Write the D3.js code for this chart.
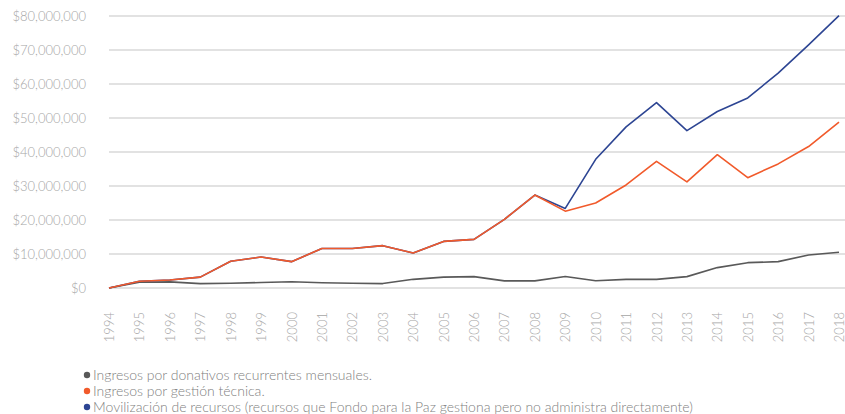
<!DOCTYPE html>
<html>
<head>
<meta charset="utf-8">
<script src="https://cdn.jsdelivr.net/npm/d3@7"></script>
<style>
  body { margin: 0; background: #fff; }
  svg text { font-family: Lato, "Open Sans", sans-serif; font-weight: 300; }
</style>
</head>
<body>
<div id="chart"></div>
<script>
var years = ["1994","1995","1996","1997","1998","1999","2000","2001","2002","2003","2004","2005",
  "2006","2007","2008","2009","2010","2011","2012","2013","2014","2015","2016","2017","2018"];

// ingresos por donativos recurrentes mensuales
var donativos = [0, 1.7, 1.8, 1.3, 1.4, 1.6, 1.85, 1.55, 1.4, 1.3, 2.55, 3.2, 3.35, 2.1, 2.1,
  3.4, 2.15, 2.55, 2.55, 3.35, 6.0, 7.45, 7.75, 9.7, 10.5];
// ingresos por gestion tecnica
var gestion = [0, 2.0, 2.35, 3.2, 7.85, 9.1, 7.75, 11.6, 11.6, 12.45, 10.3, 13.7, 14.3, 20.2, 27.35,
  22.6, 25.0, 30.3, 37.25, 31.2, 39.2, 32.45, 36.5, 41.6, 48.8];
// movilizacion de recursos
var movilizacion = [0, 2.0, 2.35, 3.2, 7.85, 9.1, 7.75, 11.6, 11.6, 12.45, 10.3, 13.7, 14.3, 20.2, 27.35,
  23.4, 37.85, 47.4, 54.5, 46.3, 51.9, 55.9, 63.2, 71.5, 80.1];

var yTicks = [0, 10, 20, 30, 40, 50, 60, 70, 80];

var legendLabels = [
  "Ingresos por donativos recurrentes mensuales.",
  "Ingresos por gestión técnica.",
  "Movilización de recursos (recursos que Fondo para la Paz gestiona pero no administra directamente)"
];
var colors = ["#595959", "#f15a2b", "#2d4593"];

var width = 845, height = 414;
var margin = {top: 16, left: 109, right: 5};
var plotBottom = 288;

var svg = d3.select("#chart").append("svg")
  .attr("width", width)
  .attr("height", height);

var x = d3.scalePoint()
  .domain(years)
  .range([margin.left, 839]);

var y = d3.scaleLinear()
  .domain([0, 80])
  .range([plotBottom, margin.top]);

// grid lines
var grid = svg.append("g").attr("class", "grid");
grid.selectAll("line")
  .data(yTicks)
  .enter().append("line")
  .attr("x1", margin.left)
  .attr("x2", width)
  .attr("y1", function(d) { return y(d); })
  .attr("y2", function(d) { return y(d); })
  .attr("stroke", "#d9d9d9")
  .attr("stroke-width", 1.5);

// y axis labels
var fmt = d3.format(",");
var yAxis = d3.axisLeft(y)
  .tickValues(yTicks)
  .tickSize(0)
  .tickPadding(0)
  .tickFormat(function(d) { return "$" + fmt(d * 1000000); });
svg.append("g")
  .attr("transform", "translate(86,0)")
  .call(yAxis)
  .call(function(g) { g.select(".domain").remove(); })
  .selectAll("text")
  .attr("fill", "#a6a6a6")
  .attr("font-size", 13)
  .attr("font-family", "Lato, sans-serif");

// x axis labels (rotated, reading upward)
var xAxis = d3.axisBottom(x).tickSize(0).tickPadding(0);
svg.append("g")
  .attr("transform", "translate(0,312)")
  .call(xAxis)
  .call(function(g) { g.select(".domain").remove(); })
  .selectAll("text")
  .attr("fill", "#a6a6a6")
  .attr("font-size", 13)
  .attr("font-family", "Lato, sans-serif")
  .attr("text-anchor", "end")
  .attr("dy", "0.35em")
  .attr("y", 0)
  .attr("x", 0)
  .attr("transform", "rotate(-90)");

// lines
var line = d3.line()
  .x(function(d, i) { return x(years[i]); })
  .y(function(d) { return y(d); });

var series = [
  {values: donativos, color: colors[0]},
  {values: movilizacion, color: colors[2]},
  {values: gestion, color: colors[1]}
];

svg.append("g").selectAll("path")
  .data(series)
  .enter().append("path")
  .attr("d", function(d) { return line(d.values); })
  .attr("fill", "none")
  .attr("stroke", function(d) { return d.color; })
  .attr("stroke-width", 1.6)
  .attr("stroke-linejoin", "round");

// legend
var legend = svg.append("g")
  .selectAll("g")
  .data(legendLabels)
  .enter().append("g")
  .attr("transform", function(d, i) { return "translate(87," + (375 + i * 16) + ")"; });
legend.append("circle")
  .attr("r", 3.2)
  .attr("fill", function(d, i) { return colors[i]; });
legend.append("text")
  .attr("x", 6)
  .attr("dy", "0.35em")
  .attr("font-size", 14)
  .attr("fill", "#808080")
  .text(function(d) { return d; });
</script>
</body>
</html>
